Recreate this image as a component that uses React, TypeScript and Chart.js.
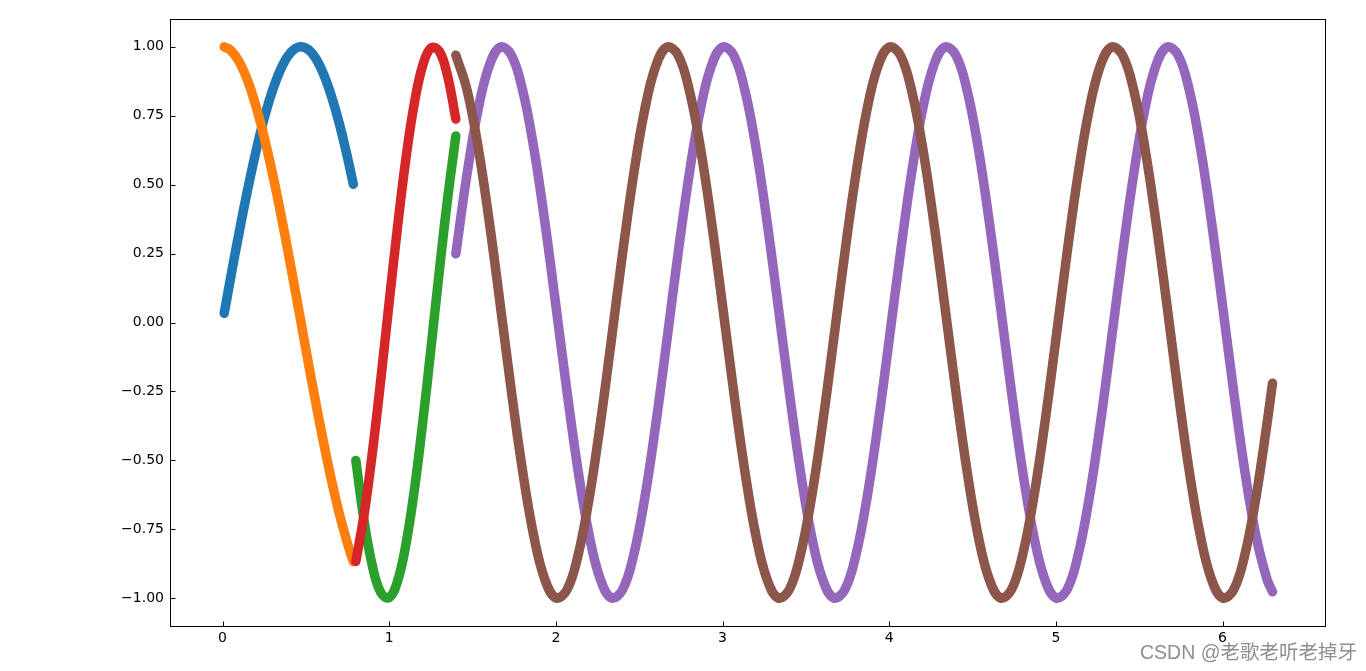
import React, { useEffect, useRef } from "react";
import { Chart, registerables } from "chart.js";

Chart.register(...registerables);

// Tick labels
const xTicks = [0, 1, 2, 3, 4, 5, 6];
const yTicks = [-1, -0.75, -0.5, -0.25, 0, 0.25, 0.5, 0.75, 1];

// Segment 1 (blue, orange)
const xFirst = [0.01, 0.05, 0.1, 0.15, 0.2, 0.25, 0.3, 0.35, 0.4, 0.45, 0.5, 0.55, 0.6, 0.65, 0.7, 0.75, 0.785];
const blueY = [0.033, 0.166, 0.327, 0.479, 0.618, 0.74, 0.841, 0.919, 0.972, 0.997, 0.995, 0.966, 0.909, 0.827, 0.723, 0.598, 0.501];
const orangeY = [0.999, 0.986, 0.945, 0.878, 0.786, 0.672, 0.54, 0.393, 0.235, 0.071, -0.096, -0.26, -0.416, -0.561, -0.691, -0.801, -0.866];

// Segment 2 (green, red)
const xSecond = [0.8, 0.85, 0.9, 0.95, 1.0, 1.05, 1.1, 1.15, 1.2, 1.25, 1.3, 1.35, 1.4];
const greenY = [-0.5, -0.72, -0.884, -0.979, -0.997, -0.938, -0.806, -0.612, -0.369, -0.098, 0.181, 0.446, 0.676];
const redY = [-0.866, -0.694, -0.468, -0.206, 0.073, 0.345, 0.592, 0.791, 0.929, 0.995, 0.984, 0.895, 0.737];

// Segment 3 (purple, brown)
const xThird = [
  1.4, 1.4667, 1.5333, 1.6, 1.6667, 1.7333, 1.8, 1.8667, 1.9333, 2.0,
  2.0667, 2.1333, 2.2, 2.2667, 2.3333, 2.4, 2.4667, 2.5333, 2.6, 2.6667,
  2.7333, 2.8, 2.8667, 2.9333, 3.0, 3.0667, 3.1333, 3.2, 3.2667, 3.3333,
  3.4, 3.4667, 3.5333, 3.6, 3.6667, 3.7333, 3.8, 3.8667, 3.9333, 4.0,
  4.0667, 4.1333, 4.2, 4.2667, 4.3333, 4.4, 4.4667, 4.5333, 4.6, 4.6667,
  4.7333, 4.8, 4.8667, 4.9333, 5.0, 5.0667, 5.1333, 5.2, 5.2667, 5.3333,
  5.4, 5.4667, 5.5333, 5.6, 5.6667, 5.7333, 5.8, 5.8667, 5.9333, 6.0,
  6.0667, 6.1333, 6.2, 6.2667, 6.3,
];
const purpleY = [
  0.249, 0.536, 0.771, 0.93, 0.998, 0.969, 0.844, 0.637, 0.368, 0.063,
  -0.249, -0.536, -0.771, -0.93, -0.998, -0.969, -0.844, -0.637, -0.368, -0.063,
  0.249, 0.536, 0.771, 0.93, 0.998, 0.969, 0.844, 0.637, 0.368, 0.063,
  -0.249, -0.536, -0.771, -0.93, -0.998, -0.969, -0.844, -0.637, -0.368, -0.063,
  0.249, 0.536, 0.771, 0.93, 0.998, 0.969, 0.844, 0.637, 0.368, 0.063,
  -0.249, -0.536, -0.771, -0.93, -0.998, -0.969, -0.844, -0.637, -0.368, -0.063,
  0.249, 0.536, 0.771, 0.93, 0.998, 0.969, 0.844, 0.637, 0.368, 0.063,
  -0.249, -0.536, -0.771, -0.93, -0.976,
];
const brownY = [
  0.969, 0.844, 0.637, 0.368, 0.063, -0.249, -0.536, -0.771, -0.93, -0.998,
  -0.969, -0.844, -0.637, -0.368, -0.063, 0.249, 0.536, 0.771, 0.93, 0.998,
  0.969, 0.844, 0.637, 0.368, 0.063, -0.249, -0.536, -0.771, -0.93, -0.998,
  -0.969, -0.844, -0.637, -0.368, -0.063, 0.249, 0.536, 0.771, 0.93, 0.998,
  0.969, 0.844, 0.637, 0.368, 0.063, -0.249, -0.536, -0.771, -0.93, -0.998,
  -0.969, -0.844, -0.637, -0.368, -0.063, 0.249, 0.536, 0.771, 0.93, 0.998,
  0.969, 0.844, 0.637, 0.368, 0.063, -0.249, -0.536, -0.771, -0.93, -0.998,
  -0.969, -0.844, -0.637, -0.368, -0.22,
];

const toPts = (xs: number[], ys: number[]) => xs.map((x, i) => ({ x, y: ys[i] }));

const frameAndTicks = {
  id: "frameAndTicks",
  afterDraw(chart: any) {
    const { ctx, chartArea: a, scales } = chart;
    const L = Math.round(a.left) + 0.5;
    const T = Math.round(a.top) + 0.5;
    const R = Math.round(a.right) + 0.5;
    const B = Math.round(a.bottom) + 0.5;
    ctx.save();
    ctx.strokeStyle = "#000";
    ctx.lineWidth = 1;
    ctx.strokeRect(L, T, R - L, B - T);
    ctx.beginPath();
    for (const v of xTicks) {
      const px = Math.round(scales.x.getPixelForValue(v)) + 0.5;
      ctx.moveTo(px, B);
      ctx.lineTo(px, B - 5);
    }
    for (const v of yTicks) {
      const py = Math.round(scales.y.getPixelForValue(v)) + 0.5;
      ctx.moveTo(L, py);
      ctx.lineTo(L + 5, py);
    }
    ctx.stroke();
    ctx.restore();
  },
};

const mkSet = (data: any[], color: string, order: number) => ({
  data,
  showLine: true,
  borderColor: color,
  backgroundColor: color,
  borderWidth: 9.5,
  borderCapStyle: "round" as const,
  borderJoinStyle: "round" as const,
  pointRadius: 0,
  pointHoverRadius: 0,
  tension: 0.4,
  order,
});

export default function App() {
  const ref = useRef<HTMLCanvasElement | null>(null);
  useEffect(() => {
    if (!ref.current) return;
    const chart = new Chart(ref.current, {
      type: "scatter",
      data: {
        datasets: [
          mkSet(toPts(xFirst, blueY), "#1f77b4", 6),
          mkSet(toPts(xFirst, orangeY), "#ff7f0e", 5),
          mkSet(toPts(xSecond, greenY), "#2ca02c", 4),
          mkSet(toPts(xSecond, redY), "#d62728", 3),
          mkSet(toPts(xThird, purpleY), "#9467bd", 2),
          mkSet(toPts(xThird, brownY), "#8c564b", 1),
        ],
      },
      options: {
        animation: false,
        responsive: false,
        devicePixelRatio: 1,
        events: [],
        layout: { padding: { left: 0, top: 19, right: 41, bottom: 0 } },
        plugins: { legend: { display: false }, tooltip: { enabled: false } },
        scales: {
          x: {
            type: "linear",
            min: -0.315,
            max: 6.615,
            grid: { display: false, drawTicks: false, tickLength: 0 },
            border: { display: false },
            afterBuildTicks: (s: any) => {
              s.ticks = xTicks.map((v) => ({ value: v }));
            },
            afterFit: (s: any) => {
              s.height = 45;
            },
            ticks: {
              color: "#000",
              padding: 4,
              maxRotation: 0,
              font: { family: "DejaVu Sans", size: 14 },
              callback: (v: any) => String(v),
            },
          },
          y: {
            type: "linear",
            min: -1.1,
            max: 1.1,
            grid: { display: false, drawTicks: false, tickLength: 0 },
            border: { display: false },
            afterBuildTicks: (s: any) => {
              s.ticks = yTicks.map((v) => ({ value: v }));
            },
            afterFit: (s: any) => {
              s.width = 170;
            },
            ticks: {
              color: "#000",
              padding: 6,
              font: { family: "DejaVu Sans", size: 14 },
              callback: (v: any) => Number(v).toFixed(2).replace("-", "\u2212"),
            },
          },
        },
      },
      plugins: [frameAndTicks],
    });
    return () => chart.destroy();
  }, []);

  return (
    <div style={{ position: "fixed", left: 0, top: 0, width: 1366, height: 671, background: "#fff" }}>
      <canvas ref={ref} width={1366} height={671} style={{ display: "block", width: 1366, height: 671 }} />
      <div
        style={{
          position: "absolute",
          left: 1140,
          top: 640,
          fontFamily: "'Liberation Sans', 'Noto Sans CJK SC', sans-serif",
          fontSize: 19.5,
          lineHeight: "24px",
          color: "#8e8e8e",
          whiteSpace: "nowrap",
        }}
      >
        CSDN @老歌老听老掉牙
      </div>
    </div>
  );
}
